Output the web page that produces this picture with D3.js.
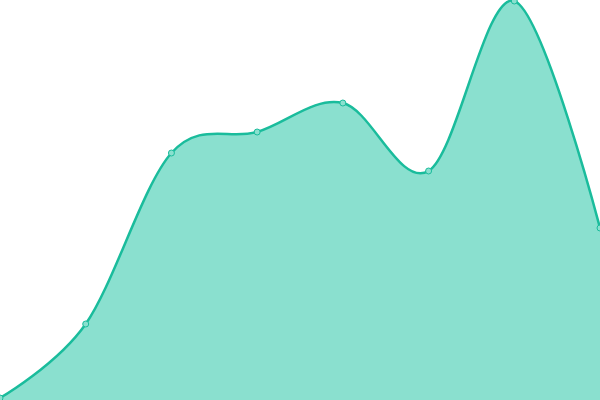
<!DOCTYPE html>
<html>
<head>
<meta charset="utf-8">
<script src="https://cdn.jsdelivr.net/npm/d3@7"></script>
<style>
  html, body { margin: 0; padding: 0; background: #fff; }
  svg { display: block; }
</style>
</head>
<body>
<svg id="chart"></svg>
<script>
const width = 600, height = 400

// data
const categories = ['A', 'B', 'C', 'D', 'E', 'F', 'G', 'H']
const values = [2, 76, 247, 268, 297, 229, 399, 172]

const x = d3.scalePoint().domain(categories).range([0, width])
const y = d3.scaleLinear().domain([0, 400]).range([height, 0])

const svg = d3.select('#chart')
    .attr('width', width)
    .attr('height', height)

const data = categories.map((c, i) => ({ c, v: values[i] }))
const curve = d3.curveCardinal.tension(0)

// filled area
svg.append('path')
    .datum(data)
    .attr('fill', '#8ae0cf')
    .attr('d', d3.area()
        .x(d => x(d.c))
        .y0(height)
        .y1(d => y(d.v))
        .curve(curve))

// line on top
svg.append('path')
    .datum(data)
    .attr('fill', 'none')
    .attr('stroke', '#1abc9c')
    .attr('stroke-width', 2.5)
    .attr('d', d3.line()
        .x(d => x(d.c))
        .y(d => y(d.v))
        .curve(curve))

// point markers
svg.append('g')
    .selectAll('circle')
    .data(data)
    .join('circle')
        .attr('cx', d => x(d.c))
        .attr('cy', d => y(d.v))
        .attr('r', 3)
        .attr('fill', '#8ae0cf')
        .attr('stroke', '#1abc9c')
        .attr('stroke-width', 1)
</script>
</body>
</html>
